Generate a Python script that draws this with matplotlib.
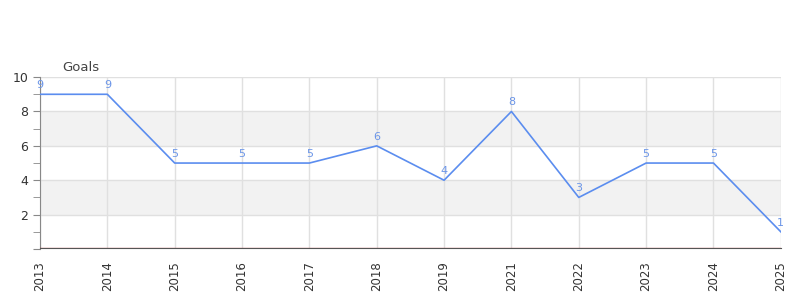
import matplotlib
matplotlib.use("Agg")
import matplotlib.pyplot as plt
import matplotlib.transforms as mtransforms

years = ["2013", "2014", "2015", "2016", "2017", "2018", "2019", "2021", "2022", "2023", "2024", "2025"]
goals = [9, 9, 5, 5, 5, 6, 4, 8, 3, 5, 5, 1]
series_name = "Goals"

fig = plt.figure(figsize=(8, 3), dpi=100)
ax = fig.add_axes([0.05, 0.17, 0.926, 0.573])
x = list(range(len(years)))
ax.set_xlim(0, len(years) - 1)
ax.set_ylim(0, 10)

for lo, hi in [(2, 4), (6, 8)]:
    ax.axhspan(lo, hi, color="#f2f2f2", zorder=0, lw=0)
for y in [2, 4, 6, 8, 10]:
    ax.axhline(y, color="#e0e0e0", lw=1, zorder=1)
for xi in x:
    ax.axvline(xi, color="#e0e0e0", lw=1, zorder=1)

ax.plot(x, goals, color="#5b8def", lw=1.2, zorder=3)
for xi, v in zip(x, goals):
    ax.annotate(str(v), (xi, v), xytext=(0, 3), textcoords="offset points",
                ha="center", va="bottom", fontsize=8, color="#6b95e8", zorder=4)

ax.axhline(0, color="#cc1111", lw=1.6, zorder=3)
up = mtransforms.offset_copy(ax.get_yaxis_transform(), fig=fig, x=0, y=1.0, units="dots")
ax.plot([0, 1], [0, 0], transform=up, color="#555555", lw=0.8, zorder=3, clip_on=False)

for s in ["top", "right", "bottom"]:
    ax.spines[s].set_visible(False)
ax.spines["left"].set_color("#888888")

ax.set_yticks([0, 2, 4, 6, 8, 10])
ax.set_yticklabels(["", "2", "4", "6", "8", "10"])
ax.set_yticks([1, 3, 5, 7, 9], minor=True)
ax.tick_params(axis="y", which="both", length=5, color="#888888", labelsize=9, labelcolor="#333333")
ax.set_xticks(x)
ax.set_xticklabels(years, rotation=90)
ax.tick_params(axis="x", length=0, labelsize=8.5, labelcolor="#333333", pad=9)

fig.text(62 / 800, 1 - 67 / 300, series_name, fontsize=9.5, color="#444444", va="center", ha="left")

fig.savefig("out.png", dpi=100)
